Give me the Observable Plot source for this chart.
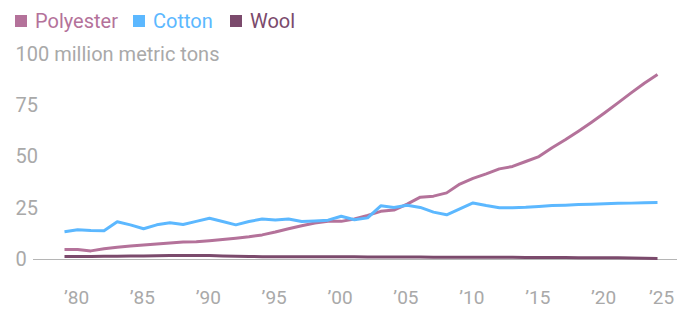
<!DOCTYPE html>
<html>
<head>
<meta charset="utf-8">
<script src="https://cdn.jsdelivr.net/npm/d3@7"></script>
<script src="https://cdn.jsdelivr.net/npm/@observablehq/plot@0.6"></script>
<style>
  html, body { margin: 0; padding: 0; background: #fff; }
  body { width: 677px; height: 309px; overflow: hidden; font-family: Roboto, "Noto Sans", sans-serif; }
  #legend { height: 40px; position: relative; }
  .item { position: absolute; top: 9px; display: flex; align-items: center; font-size: 20px; line-height: 24px; }
  .sw { width: 12px; height: 12px; margin-right: 8px; }
  #chart svg { display: block; }
</style>
</head>
<body>
<div id="legend"></div>
<div id="chart"></div>
<script>
const years = d3.range(1980, 2026);
const seriesNames = ["Polyester", "Cotton", "Wool"];
const seriesColors = ["#b4729a", "#5cb8ff", "#7b4a6c"];

const polyester = [4.9, 4.9, 4.2, 5.2, 6.0, 6.6, 7.1, 7.6, 8.1, 8.5,
  8.7, 9.2, 9.8, 10.4, 11.1, 12.0, 13.4, 15.0, 16.5, 17.8,
  18.7, 18.6, 19.8, 21.5, 23.5, 24.1, 27.0, 30.4, 30.9, 32.5,
  36.8, 39.6, 41.8, 44.2, 45.4, 47.8, 50.2, 54.5, 58.4, 62.6,
  67.0, 71.6, 76.4, 81.3, 86.0, 90.2];
const cotton = [13.5, 14.5, 14.1, 14.0, 18.4, 16.9, 15.0, 16.9, 17.9, 17.1,
  18.6, 20.1, 18.5, 16.9, 18.5, 19.8, 19.3, 19.8, 18.5, 18.8,
  19.2, 21.1, 19.4, 20.3, 26.2, 25.4, 26.5, 25.4, 23.1, 21.8,
  24.7, 27.6, 26.3, 25.2, 25.3, 25.5, 25.9, 26.3, 26.5, 26.8,
  27.0, 27.2, 27.4, 27.5, 27.7, 27.8];
const wool = [1.5, 1.5, 1.5, 1.6, 1.6, 1.7, 1.7, 1.8, 1.9, 2.0,
  2.0, 1.9, 1.7, 1.6, 1.5, 1.4, 1.4, 1.3, 1.3, 1.3,
  1.3, 1.3, 1.3, 1.2, 1.2, 1.2, 1.2, 1.2, 1.1, 1.1,
  1.1, 1.1, 1.1, 1.1, 1.1, 1.0, 1.0, 1.0, 1.0, 0.9,
  0.9, 0.8, 0.8, 0.7, 0.6, 0.5];

const yTicks = [0, 25, 50, 75, 100];
const yUnit = "million metric tons";
const xTicks = [1980, 1985, 1990, 1995, 2000, 2005, 2010, 2015, 2020];
const xLastTick = [2025];

const seriesValues = [polyester, cotton, wool];
const rows = [];
seriesNames.forEach((name, i) => {
  years.forEach((yr, j) => rows.push({series: name, year: yr, value: seriesValues[i][j]}));
});

// legend
const legendLeft = [15, 133, 230];
const legend = document.getElementById("legend");
seriesNames.forEach((name, i) => {
  const it = document.createElement("div");
  it.className = "item";
  it.style.left = legendLeft[i] + "px";
  it.style.color = seriesColors[i];
  const sw = document.createElement("div");
  sw.className = "sw";
  sw.style.background = seriesColors[i];
  it.appendChild(sw);
  it.appendChild(document.createTextNode(name));
  legend.appendChild(it);
});

const grey = "#a9a9a9";
const fmtYear = d => "\u2019" + String(d).slice(2);
const chart = Plot.plot({
  width: 677,
  height: 269,
  marginTop: 14,
  marginBottom: 50,
  marginLeft: 64,
  marginRight: 20,
  style: {fontFamily: "Roboto, 'Noto Sans', sans-serif", fontSize: "20px", background: "#fff"},
  x: {domain: [1980, 2025]},
  y: {domain: [0, 100]},
  color: {domain: seriesNames, range: seriesColors},
  marks: [
    Plot.ruleY([0], {stroke: "#b5b5b5", strokeWidth: 1, insetLeft: -31, insetRight: -20}),
    Plot.axisY(yTicks, {
      tickSize: 0, tickPadding: 49, textAnchor: "start", fill: grey,
      tickFormat: d => d === 100 ? `${d} ${yUnit}` : `${d}`, label: null
    }),
    Plot.axisX(xTicks, {
      tickSize: 0, tickPadding: 31, dx: 12, fill: grey, fontSize: 19,
      tickFormat: fmtYear, label: null
    }),
    Plot.axisX(xLastTick, {
      tickSize: 0, tickPadding: 31, dx: 4, fill: grey, fontSize: 19,
      tickFormat: fmtYear, label: null
    }),
    Plot.lineY(rows, {x: "year", y: "value", z: "series", stroke: "series", strokeWidth: 3, strokeLinejoin: "round", strokeLinecap: "butt"})
  ]
});
document.getElementById("chart").appendChild(chart);
</script>
</body>
</html>
